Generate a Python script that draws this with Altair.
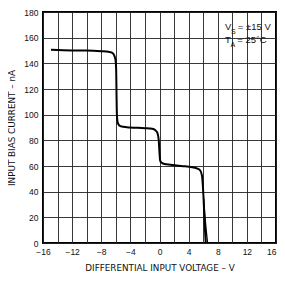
import altair as alt
import pandas as pd

# Main curve (differential input voltage V, input bias current nA)
volt = [-14.9, -12, -10, -8, -7, -6.6, -6.3, -6.05, -5.95, -5.9, -5.85, -5.75, -5.5, -5.0, -4, -2, -1, -0.6, -0.3, -0.1, 0.0, 0.1, 0.3, 0.7, 1.5, 3, 4.5, 5.2, 5.6, 5.85, 5.95, 6.05, 6.15, 6.25, 6.35]
bias = [150.5, 150, 150, 149.5, 149, 148.5, 147, 143, 135, 115, 100, 94, 91.5, 90.5, 90, 89.5, 89, 88, 86, 80, 70, 64, 62.5, 61.5, 61, 60, 59, 58, 56.5, 52, 45, 35, 22, 10, 0]
# second trace near the bottom of the last step
volt2 = [6.05, 6.25, 6.45, 6.6]
bias2 = [35, 20, 8, 0]

ann_x = [9.0, 9.82, 10.75, 9.0, 9.75, 10.68]
ann_y = [166.3, 162.8, 166.3, 156.0, 152.4, 156.0]
ann_t = ["V", "S", "= ±15 V", "T", "A", "= 25°C"]
ann_s = [9.5, 7, 9.5, 9.5, 7, 9.5]

x_ticks = list(range(-16, 17, 2))
y_ticks = list(range(0, 181, 20))

FONT = "Liberation Sans"
TFONT = "DejaVu Sans"

df = pd.DataFrame({"v": volt, "i": bias})
df2 = pd.DataFrame({"v": volt2, "i": bias2})
ann = pd.DataFrame({"v": ann_x, "i": ann_y, "t": ann_t, "fs": ann_s})

xs = alt.Scale(domain=[-16, 16], nice=False, zero=False)
ys = alt.Scale(domain=[0, 180], nice=False)

xax = alt.Axis(values=x_ticks, grid=True, ticks=False, domain=False,
               labelExpr="datum.value % 4 == 0 ? datum.label : ''",
               labelOverlap=False, labelFont=FONT, labelFontSize=8.5,
               labelColor="#111", labelPadding=4,
               labelAlign=alt.condition("datum.value == 16", alt.value("right"), alt.value("center")),
               title="DIFFERENTIAL INPUT VOLTAGE – V", titleFont=TFONT, titleFontSize=8.8,
               titleFontWeight="normal", titleColor="#111", titlePadding=8,
               gridColor="#222", gridWidth=0.9, labelFlush=False)
yax = alt.Axis(values=y_ticks, grid=True, ticks=False, domain=False,
               labelOverlap=False, labelFont=FONT, labelFontSize=8.5,
               labelColor="#111", labelPadding=5,
               title="INPUT BIAS CURRENT – nA", titleFont=TFONT, titleFontSize=8.8,
               titleFontWeight="normal", titleColor="#111", titlePadding=7,
               gridColor="#222", gridWidth=0.9)

X = alt.X("v:Q", scale=xs, axis=xax)
Y = alt.Y("i:Q", scale=ys, axis=yax)

line = alt.Chart(df).mark_line(color="black", strokeWidth=2, interpolate="monotone").encode(x=X, y=Y)
line2 = alt.Chart(df2).mark_line(color="black", strokeWidth=1.3).encode(x=X, y=Y)
text = alt.Chart(ann).mark_text(align="left", baseline="alphabetic", font=FONT, color="#111").encode(
    x=X, y=Y,
    text="t:N",
    size=alt.Size("fs:Q", scale=None, legend=None),
)

chart = (line + line2 + text).properties(
    width=233, height=231,
    background="white",
    autosize=alt.AutoSizeParams(type="none"),
    padding={"left": 35, "top": 4, "right": 1, "bottom": 30},
).configure_view(stroke="black", strokeWidth=2)

chart.save("out.html", embed_options={"renderer": "svg", "actions": False})
